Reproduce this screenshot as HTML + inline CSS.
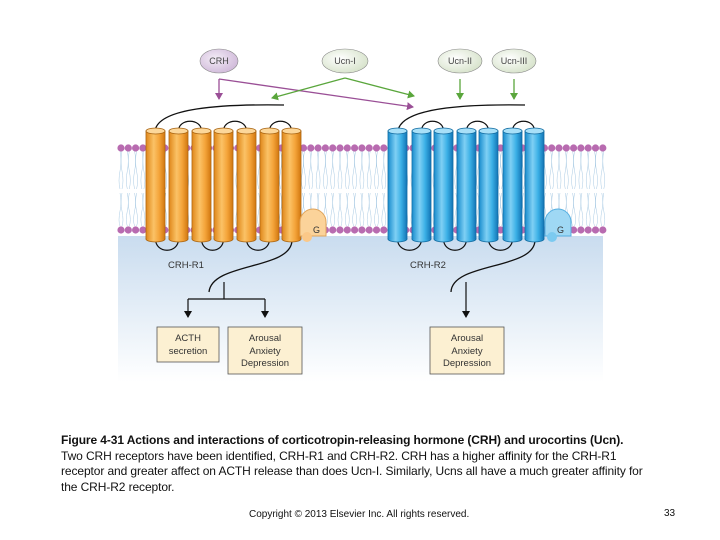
<!DOCTYPE html>
<html><head><meta charset="utf-8"><style>
body{margin:0;background:#fff;width:720px;height:540px;overflow:hidden;position:relative;font-family:"Liberation Sans",sans-serif}
.cap{position:absolute;left:61px;top:433px;font-size:12px;line-height:15.6px;color:#111;width:650px;letter-spacing:-0.1px}
.cr{position:absolute;top:509px;left:249px;font-size:10px;color:#111}
.pn{position:absolute;top:508px;left:664px;font-size:10px;color:#111}
</style></head><body>
<svg id="s" width="720" height="540" style="position:absolute;left:0;top:0" xmlns="http://www.w3.org/2000/svg">
<defs>
<linearGradient id="bg" x1="0" y1="0" x2="0" y2="1"><stop offset="0" stop-color="#c9dcef"/><stop offset="1" stop-color="#ffffff"/></linearGradient>
<linearGradient id="or" x1="0" y1="0" x2="1" y2="0"><stop offset="0" stop-color="#e08a1e"/><stop offset="0.4" stop-color="#fbc266"/><stop offset="0.7" stop-color="#f4a43a"/><stop offset="1" stop-color="#d47a12"/></linearGradient>
<linearGradient id="bl" x1="0" y1="0" x2="1" y2="0"><stop offset="0" stop-color="#1d8fcf"/><stop offset="0.4" stop-color="#7fd0f4"/><stop offset="0.7" stop-color="#3bb0e6"/><stop offset="1" stop-color="#1578b8"/></linearGradient>
<radialGradient id="ov" cx="0.4" cy="0.4" r="0.7"><stop offset="0" stop-color="#fff"/><stop offset="1" stop-color="#d3e0c6"/></radialGradient>
<radialGradient id="ovp" cx="0.4" cy="0.4" r="0.7"><stop offset="0" stop-color="#f3ecf6"/><stop offset="1" stop-color="#cdb5d7"/></radialGradient>
<marker id="ap" markerWidth="8" markerHeight="8" refX="6" refY="4" orient="auto" markerUnits="userSpaceOnUse"><path d="M0,0 L7,4 L0,8z" fill="#9a4f96"/></marker>
<marker id="ag" markerWidth="8" markerHeight="8" refX="6" refY="4" orient="auto" markerUnits="userSpaceOnUse"><path d="M0,0 L7,4 L0,8z" fill="#5aa63c"/></marker>
<marker id="ak" markerWidth="8" markerHeight="8" refX="6" refY="4" orient="auto" markerUnits="userSpaceOnUse"><path d="M0,0 L7,4 L0,8z" fill="#111"/></marker>
</defs>
<rect x="118" y="236" width="485" height="146" fill="url(#bg)"/>
<g id="lip"></g>
<g fill="none" stroke="#111" stroke-width="1.3">
<path d="M155,131 C158,108 220,104 284,105"/>
<path d="M398,131 C401,108 463,104 525,105"/>
<path d="M292,240 C292,270 212,262 209,292"/>
<path d="M535,240 C535,270 452,262 451,292"/>
</g>
<g id="cyl"></g>
<g id="gp">
<path d="M300,222 a12,12 0 0 1 26,0 v14 h-26z" fill="#fbd39a" stroke="#e0a45a"/>
<circle cx="307" cy="237" r="5" fill="#fbc888"/>
<text x="313" y="233" font-size="9" fill="#333">G</text>
<path d="M545,222 a12,12 0 0 1 26,0 v14 h-26z" fill="#9fd8f4" stroke="#55aee0"/>
<circle cx="552" cy="237" r="5" fill="#7ccaf0"/>
<text x="557" y="233" font-size="9" fill="#333">G</text>
</g>
<ellipse cx="219" cy="61" rx="19" ry="12" fill="url(#ovp)" stroke="#888" stroke-width="0.6"/>
<ellipse cx="345" cy="61" rx="23" ry="12" fill="url(#ov)" stroke="#888" stroke-width="0.6"/>
<ellipse cx="460" cy="61" rx="22" ry="12" fill="url(#ov)" stroke="#888" stroke-width="0.6"/>
<ellipse cx="514" cy="61" rx="22" ry="12" fill="url(#ov)" stroke="#888" stroke-width="0.6"/>
<g font-size="9" fill="#444" text-anchor="middle">
<text x="219" y="64">CRH</text><text x="345" y="64">Ucn-I</text><text x="460" y="64">Ucn-II</text><text x="514" y="64">Ucn-III</text>
</g>
<g stroke-width="1.3" fill="none">
<path d="M219,79 V99" stroke="#9a4f96" marker-end="url(#ap)"/>
<path d="M219,79 L413,107" stroke="#9a4f96" marker-end="url(#ap)"/>
<path d="M345,78 L272,98" stroke="#5aa63c" marker-end="url(#ag)"/>
<path d="M345,78 L414,96" stroke="#5aa63c" marker-end="url(#ag)"/>
<path d="M460,79 V99" stroke="#5aa63c" marker-end="url(#ag)"/>
<path d="M514,79 V99" stroke="#5aa63c" marker-end="url(#ag)"/>
</g>
<g stroke="#111" stroke-width="1.2" fill="none">
<path d="M224,282 V299 M188,299 H265"/>
<path d="M188,299 V317" marker-end="url(#ak)"/>
<path d="M265,299 V317" marker-end="url(#ak)"/>
<path d="M466,282 V317" marker-end="url(#ak)"/>
</g>
<g fill="#fcf0d2" stroke="#555" stroke-width="0.8">
<rect x="157" y="327" width="62" height="35"/><rect x="228" y="327" width="74" height="47"/><rect x="430" y="327" width="74" height="47"/>
</g>
<g font-size="9.5" fill="#333" text-anchor="middle">
<text x="188" y="341">ACTH</text><text x="188" y="354">secretion</text>
<text x="265" y="341">Arousal</text><text x="265" y="354">Anxiety</text><text x="265" y="366">Depression</text>
<text x="467" y="341">Arousal</text><text x="467" y="354">Anxiety</text><text x="467" y="366">Depression</text>
<text x="186" y="268">CRH-R1</text><text x="428" y="268">CRH-R2</text>
</g>
</svg>
<div class="cap"><b>Figure 4-31 Actions and interactions of corticotropin-releasing hormone (CRH) and urocortins (Ucn).</b><br>Two CRH receptors have been identified, CRH-R1 and CRH-R2. CRH has a higher affinity for the CRH-R1<br>receptor and greater affect on ACTH release than does Ucn-I. Similarly, Ucns all have a much greater affinity for<br>the CRH-R2 receptor.</div>
<div class="cr">Copyright © 2013 Elsevier Inc. All rights reserved.</div>
<div class="pn">33</div>
<script>
var NS="http://www.w3.org/2000/svg";
function el(p,t,a){var e=document.createElementNS(NS,t);for(var k in a)e.setAttribute(k,a[k]);p.appendChild(e);return e;}
var lip=document.getElementById('lip');
el(lip,'rect',{x:118,y:147,width:485,height:84,fill:'#fff'});
for(var x=121;x<603;x+=7.3){
 el(lip,'path',{d:'M'+(x-1)+',151 q2,10 0,20 q-2,10 0,18 M'+(x+1)+',151 q-2,10 0,20 q2,10 0,18',stroke:'#a9cbe4','stroke-width':0.5,fill:'none'});
 el(lip,'path',{d:'M'+(x-1)+',193 q2,10 0,18 q-2,10 0,15 M'+(x+1)+',193 q-2,10 0,18 q2,10 0,15',stroke:'#a9cbe4','stroke-width':0.5,fill:'none'});
 el(lip,'circle',{cx:x,cy:148,r:3.6,fill:'#b86bb0'});
 el(lip,'circle',{cx:x,cy:230,r:3.6,fill:'#b86bb0'});
}
var cyl=document.getElementById('cyl');
function rec(xs,fill,cap,side){
 var w=19;
 var g=el(cyl,'g',{stroke:'#111','stroke-width':1.2,fill:'none'});
 for(var i=1;i<6;i+=2){var a=xs[i]+w/2,b=xs[i+1]+w/2;el(g,'path',{d:'M'+a+',131 C'+a+',118 '+b+',118 '+b+',131'});}
 for(var i=0;i<6;i+=2){var a=xs[i]+w/2,b=xs[i+1]+w/2;el(g,'path',{d:'M'+a+',239 C'+a+',254 '+b+',254 '+b+',239'});}
 for(var i=0;i<7;i++){var x=xs[i];
  el(cyl,'rect',{x:x,y:131,width:w,height:108,fill:fill,stroke:side,'stroke-width':0.8});
  el(cyl,'ellipse',{cx:x+w/2,cy:239,rx:w/2,ry:3,fill:fill,stroke:side,'stroke-width':0.8});
  el(cyl,'rect',{x:x+0.4,y:131,width:w-0.8,height:108,fill:fill});
  el(cyl,'ellipse',{cx:x+w/2,cy:131,rx:w/2,ry:3,fill:cap,stroke:side,'stroke-width':0.8});
 }
}
rec([146,169,192,214,237,260,282],'url(#or)','#fcd79a','#a8620e');
rec([388,412,434,457,479,503,525],'url(#bl)','#a8e0f8','#0f6aa0');
</script>
</body></html>
